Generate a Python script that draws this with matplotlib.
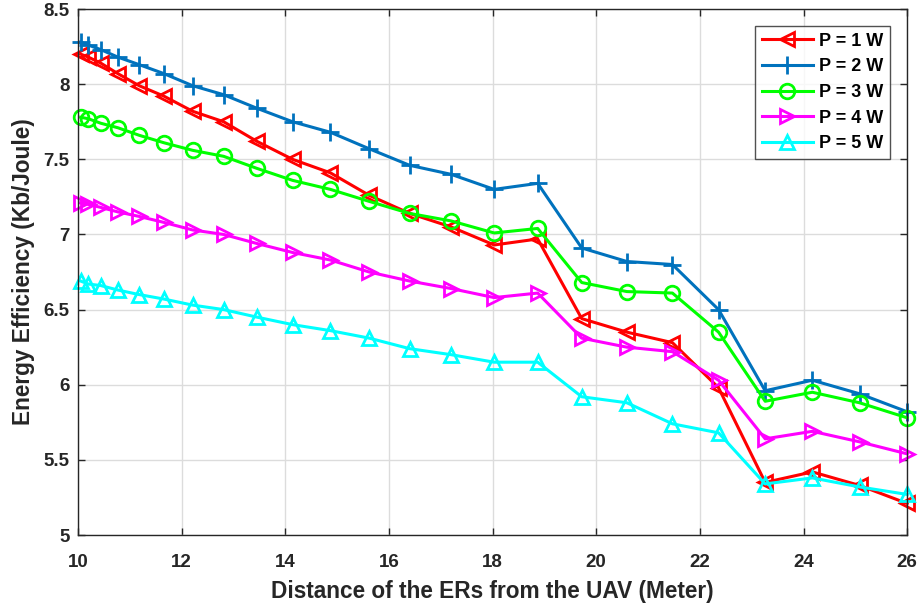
import matplotlib
matplotlib.use("Agg")
import matplotlib.pyplot as plt

plt.rcParams['font.family'] = ['Liberation Sans', 'DejaVu Sans']
plt.rcParams['font.weight'] = 'bold'

distance = [10.05, 10.20, 10.44, 10.77, 11.18, 11.66, 12.21, 12.81, 13.45, 14.14,
            14.87, 15.62, 16.40, 17.20, 18.03, 18.87, 19.72, 20.59, 21.47, 22.36,
            23.26, 24.17, 25.08, 26.00]

p1 = [8.20, 8.18, 8.14, 8.07, 7.99, 7.92, 7.82, 7.75, 7.62, 7.50,
      7.41, 7.26, 7.14, 7.05, 6.93, 6.97, 6.44, 6.35, 6.28, 5.98,
      5.35, 5.42, 5.33, 5.21]
p2 = [8.28, 8.26, 8.23, 8.18, 8.13, 8.07, 7.99, 7.93, 7.84, 7.75,
      7.68, 7.57, 7.46, 7.40, 7.30, 7.34, 6.91, 6.82, 6.80, 6.50,
      5.96, 6.03, 5.94, 5.82]
p3 = [7.78, 7.77, 7.74, 7.71, 7.66, 7.61, 7.56, 7.52, 7.44, 7.36,
      7.30, 7.22, 7.14, 7.09, 7.01, 7.04, 6.68, 6.62, 6.61, 6.35,
      5.89, 5.95, 5.88, 5.78]
p4 = [7.21, 7.20, 7.18, 7.15, 7.12, 7.08, 7.03, 7.00, 6.94, 6.88,
      6.83, 6.75, 6.69, 6.64, 6.58, 6.61, 6.31, 6.25, 6.22, 6.03,
      5.64, 5.69, 5.62, 5.54]
p5 = [6.69, 6.67, 6.66, 6.63, 6.60, 6.57, 6.53, 6.50, 6.45, 6.40,
      6.36, 6.31, 6.24, 6.20, 6.15, 6.15, 5.92, 5.88, 5.74, 5.68,
      5.34, 5.38, 5.32, 5.27]

labels = ['P = 1 W', 'P = 2 W', 'P = 3 W', 'P = 4 W', 'P = 5 W']
colors = ['#FF0000', '#0072BD', '#00FF00', '#FF00FF', '#00FFFF']
markers = ['<', '+', 'o', '>', '^']
series = [p1, p2, p3, p4, p5]

fig = plt.figure(figsize=(9.21, 6.07), dpi=100)
ax = fig.add_axes([0.0847, 0.1186, 0.9003, 0.8665])

for y, lab, c, m in zip(series, labels, colors, markers):
    ms = 12.5 if m == '+' else 10.5
    ax.plot(distance, y, color=c, marker=m, markersize=ms, markerfacecolor='none',
            markeredgecolor=c, markeredgewidth=2, linewidth=2.2, label=lab,
            clip_on=False)

ax.set_xlim(10, 26)
ax.set_ylim(5, 8.5)
ax.set_xticks([10, 12, 14, 16, 18, 20, 22, 24, 26])
ax.set_yticks([5, 5.5, 6, 6.5, 7, 7.5, 8, 8.5])
ax.set_yticklabels(['5', '5.5', '6', '6.5', '7', '7.5', '8', '8.5'])
ax.grid(True, color='#DCDCDC', linewidth=1)
ax.set_axisbelow(True)
ax.tick_params(direction='in', top=True, right=True, length=5, width=1,
               labelsize=13.5, colors='#262626')
ax.tick_params(axis='x', pad=14)
ax.tick_params(axis='y', pad=6)
for lbl in ax.get_xticklabels() + ax.get_yticklabels():
    lbl.set_fontweight('bold')
for s in ax.spines.values():
    s.set_color('#262626')
    s.set_linewidth(1)

ax.set_xlabel('Distance of the ERs from the UAV (Meter)', fontsize=16.3,
              fontweight='bold', color='#262626', labelpad=6)
ax.set_ylabel('Energy Efficiency (Kb/Joule)', fontsize=16.3,
              fontweight='bold', color='#262626', labelpad=6)

leg = ax.legend(loc='upper right', bbox_to_anchor=(0.979, 0.968), fontsize=13,
                frameon=True, fancybox=False, edgecolor='#262626',
                handlelength=2.8, borderpad=0.38, labelspacing=0.48,
                handletextpad=0.33, borderaxespad=0)
leg.get_frame().set_linewidth(1)
for t in leg.get_texts():
    t.set_fontweight('bold')

fig.savefig('out.png', dpi=100)
